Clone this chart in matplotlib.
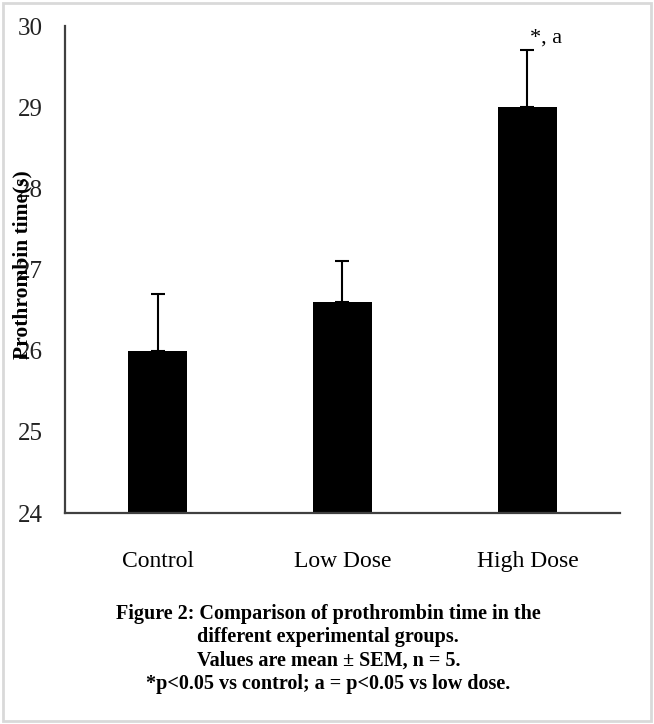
import matplotlib
matplotlib.use("Agg")
import matplotlib.pyplot as plt
from matplotlib import patches

# data
groups = ["Control", "Low Dose", "High Dose"]
means = [26.0, 26.6, 29.0]
sem = [0.7, 0.5, 0.7]
y_ticks = [24, 25, 26, 27, 28, 29, 30]
sig_label = "*, a"
caption = ("Figure 2: Comparison of prothrombin time in the\n"
           "different experimental groups.\n"
           "Values are mean \u00b1 SEM, n = 5.\n"
           "*p<0.05 vs control; a = p<0.05 vs low dose.")

plt.rcParams["font.family"] = ["Liberation Serif", "DejaVu Serif"]

fig = plt.figure(figsize=(6.54, 7.24), dpi=100)
ax = fig.add_axes([0.0994, 0.2914, 0.8486, 0.6726])

x = list(range(len(groups)))
ax.bar(x, means, width=0.32, color="black", zorder=2)
ax.errorbar(x, means, yerr=[[0] * len(sem), sem], fmt="none",
            ecolor="black", elinewidth=1.5, capsize=4.8, capthick=1.5, zorder=3)

ax.set_xlim(-0.5, len(groups) - 0.5)
ax.set_ylim(24, 30)
ax.set_yticks(y_ticks)
ax.set_xticks(x)
ax.set_xticklabels(groups, fontsize=17)
ax.tick_params(axis="y", length=0, pad=16, labelsize=18, labelcolor="#222222")
ax.tick_params(axis="x", length=0, pad=27)

for side in ["top", "right"]:
    ax.spines[side].set_visible(False)
for side in ["left", "bottom"]:
    ax.spines[side].set_color("#404040")
    ax.spines[side].set_linewidth(1.6)

# ylabel sits on top of the tick labels, like the original
ax.set_ylabel("Prothrombin time(s)", fontsize=15.5, fontweight="bold", labelpad=0)
ax.yaxis.set_label_coords(-0.058, 0.51)

# significance marker above the high-dose bar
ax.text(x[2] + 0.015, means[2] + sem[2] + 0.04, sig_label, fontsize=16,
        ha="left", va="bottom", clip_on=False)

fig.text(0.502, 0.166, caption, ha="center", va="top", fontsize=14.5,
         fontweight="bold", linespacing=1.22)

# thin grey frame around the whole figure
fig.patches.append(patches.Rectangle((0.005, 0.004), 0.99, 0.992,
                                     transform=fig.transFigure, fill=False,
                                     edgecolor="#d9d9d9", linewidth=2))

fig.savefig("out.png", dpi=100)
